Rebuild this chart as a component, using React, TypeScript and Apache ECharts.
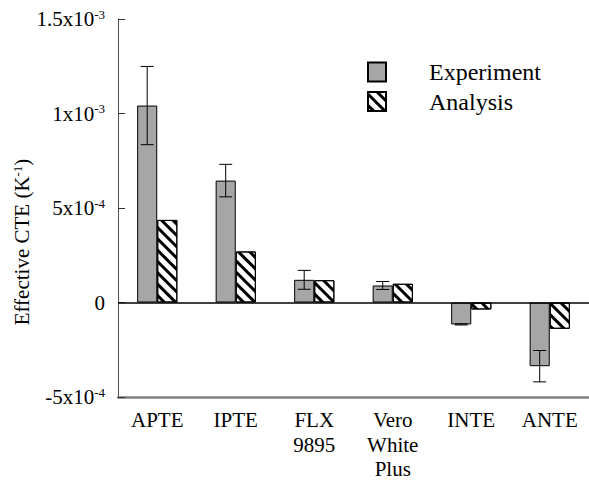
import React, { useEffect, useRef } from "react";
import * as echarts from "echarts";

// values in units of 1e-4 K^-1
const categories = ["APTE", "IPTE", "FLX\n9895", "Vero\nWhite\nPlus", "INTE", "ANTE"];
const experiment = [10.42, 6.45, 1.2, 0.9, -1.16, -3.37];
const experimentErr = [2.07, 0.86, 0.5, 0.21, 0.03, 0.83];
const analysis = [4.37, 2.7, 1.18, 0.99, -0.37, -1.39];
const yTickLabels: Record<string, string> = {
  "-5": "{b|-5x10}{s|-4}",
  "0": "{b|0}",
  "5": "{b|5x10}{s|-4}",
  "10": "{b|1x10}{s|-3}",
  "15": "{b|1.5x10}{s|-3}",
};

const FONT = "Liberation Serif";

export default function App() {
  const ref = useRef<HTMLDivElement>(null);
  useEffect(() => {
    if (!ref.current) return;
    const chart = echarts.init(ref.current, null, { renderer: "svg" });
    const rich = {
      b: { fontFamily: FONT, fontSize: 21, color: "#000" },
      s: { fontFamily: FONT, fontSize: 13, color: "#000", padding: [0, 0, 10, 0] },
    };
    chart.setOption({
      animation: false,
      backgroundColor: "#fff",
      grid: { left: 118, top: 19, width: 480, height: 378 },
      legend: {
        orient: "vertical",
        left: 367,
        top: 60,
        padding: 0,
        itemWidth: 18,
        itemHeight: 19,
        itemGap: 5.5,
        icon: "rect",
        textStyle: {
          fontFamily: FONT,
          fontSize: 24,
          color: "#000",
          padding: [0, 0, 0, 38],
        },
        data: ["Experiment", "Analysis"],
      },
      xAxis: {
        type: "category",
        data: categories,
        axisLine: { onZero: false, lineStyle: { color: "#808080", width: 2.5 } },
        axisTick: { inside: true, length: 7, lineStyle: { color: "#333", width: 1 } },
        axisLabel: { fontFamily: FONT, fontSize: 21, color: "#000", lineHeight: 24.5, margin: 11 },
      },
      yAxis: {
        type: "value",
        min: -5,
        max: 15,
        interval: 5,
        splitLine: { show: false },
        axisLine: { show: true, lineStyle: { color: "#505050", width: 1 } },
        axisTick: { show: true, inside: true, length: 7, lineStyle: { color: "#333" } },
        axisLabel: {
          margin: 13,
          formatter: (v: number) => yTickLabels[String(Math.round(v))] ?? "",
          rich,
        },
      },
      graphic: [
        {
          type: "text",
          x: 22,
          y: 242,
          rotation: Math.PI / 2,
          style: {
            text: "{b|Effective CTE (K}{s|-1}{b|)}",
            rich,
            align: "center",
            verticalAlign: "middle",
          },
        },
      ],
      series: [
        {
          name: "Experiment",
          type: "bar",
          data: experiment,
          barWidth: "25.6%",
          barGap: "0%",
          itemStyle: { color: "#a6a6a6", borderColor: "#000", borderWidth: 1 },
          markLine: {
            silent: true,
            symbol: ["none", "none"],
            label: { show: false },
            lineStyle: { color: "#000", width: 1.5, type: "solid" },
            data: [{ yAxis: 0 }],
          },
        },
        {
          name: "Analysis",
          type: "bar",
          data: analysis,
          barWidth: "25.6%",
          barGap: "0%",
          itemStyle: {
            color: "#fff",
            borderColor: "#000",
            borderWidth: 1,
            decal: {
              symbol: "rect",
              symbolSize: 1,
              color: "#000",
              dashArrayX: [1, 0],
              dashArrayY: [2.5, 4.5],
              rotation: Math.PI / 4,
            },
          },
        },
        {
          name: "err",
          type: "custom",
          data: experiment.map((v, i) => [i, v, experimentErr[i]]),
          z: 10,
          renderItem: (params: any, api: any) => {
            const idx = api.value(0);
            const v = api.value(1);
            const e = api.value(2);
            const bandW = api.size([1, 0])[0];
            const x = api.coord([idx, v])[0] - bandW * 0.128;
            const yTop = api.coord([idx, v + e])[1];
            const yBot = api.coord([idx, v - e])[1];
            const cap = 6.5;
            const st = { stroke: "#000", lineWidth: 1 };
            return {
              type: "group",
              children: [
                { type: "line", shape: { x1: x, y1: yTop, x2: x, y2: yBot }, style: st },
                { type: "line", shape: { x1: x - cap, y1: yTop, x2: x + cap, y2: yTop }, style: st },
                { type: "line", shape: { x1: x - cap, y1: yBot, x2: x + cap, y2: yBot }, style: st },
              ],
            };
          },
        },
      ],
    });
    return () => chart.dispose();
  }, []);
  return (
    <div
      ref={ref}
      style={{ position: "fixed", left: 0, top: 0, width: 589, height: 483 }}
    />
  );
}
